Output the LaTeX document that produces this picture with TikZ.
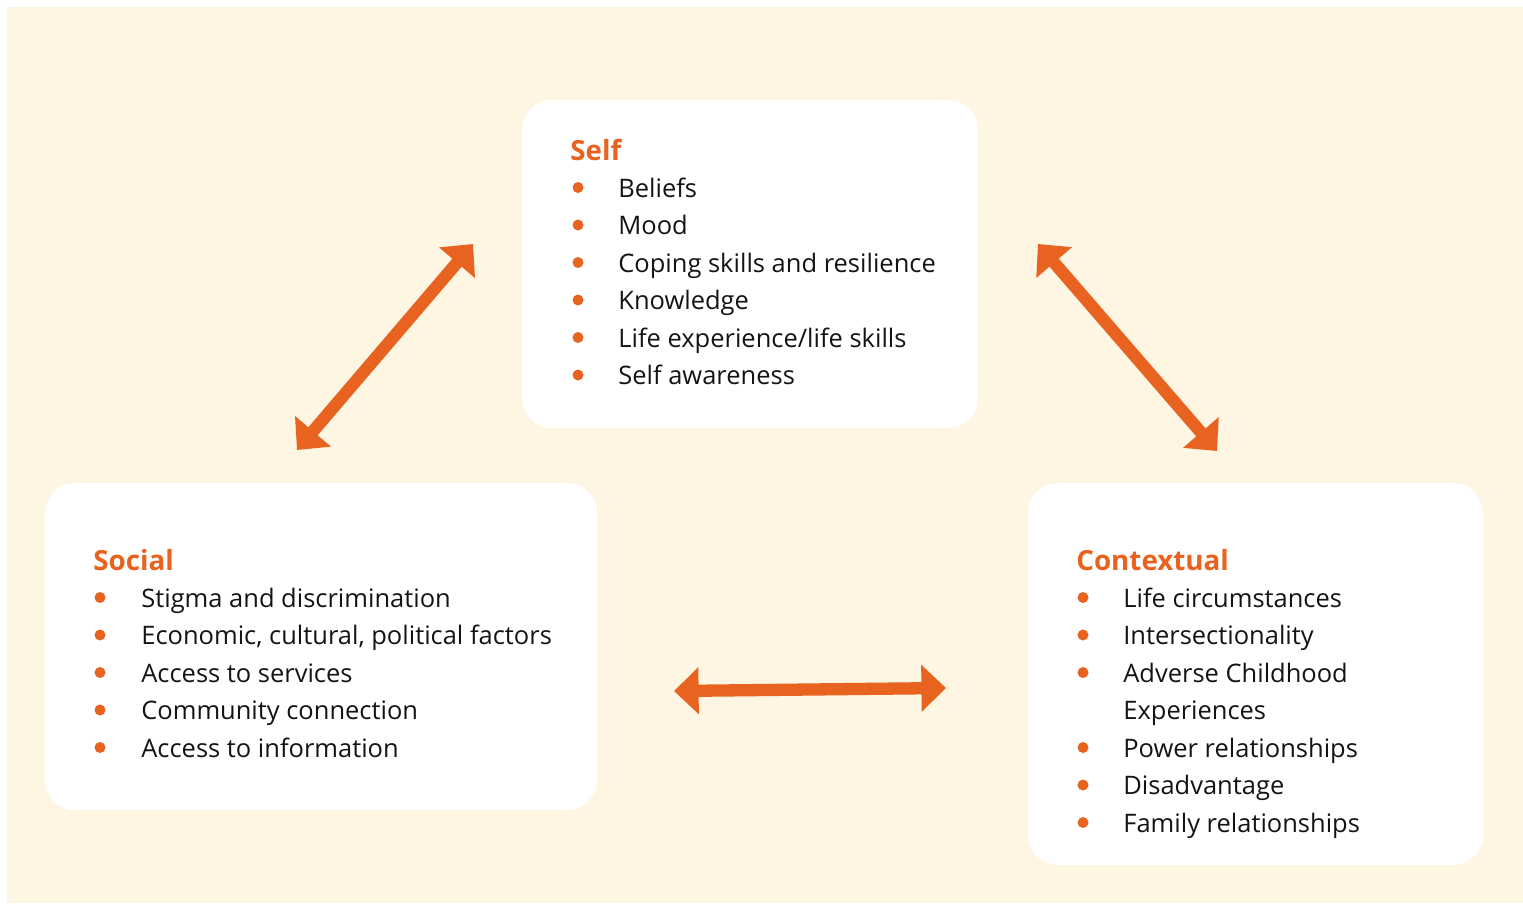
\documentclass[tikz,border=0pt]{standalone}
\usepackage{fontspec}
\setmainfont{Open Sans}
\usepackage{xcolor}
\usetikzlibrary{arrows.meta}
\definecolor{orng}{HTML}{E8631F}
\definecolor{cream}{HTML}{FEF5E3}
\definecolor{ink}{HTML}{141414}

\begin{document}
\begin{tikzpicture}[x=0.02cm, y=-0.02cm,
  panel/.style={fill=white, rounded corners=0.6cm, inner sep=0pt},
  head/.style={anchor=base west, inner sep=0pt, text=orng, font=\fontsize{15.8}{19}\selectfont\bfseries},
  item/.style={anchor=base west, inner sep=0pt, text=ink, font=\fontsize{14.5}{17}\selectfont},
  dot/.style={circle, fill=orng, inner sep=0pt, minimum size=0.22cm},
  link/.style={draw=orng, line width=7pt, >={Triangle[length=14pt, width=26pt]}, <->}]
\useasboundingbox (0,0) rectangle (1523,903);
\fill[white] (0,0) rectangle (1523,903);
\fill[cream] (7,7) rectangle (1523,903);

% the three boxes
\node[panel, minimum width=9.12cm, minimum height=6.56cm] (self) at (750,264) {};
\node[panel, minimum width=11.04cm, minimum height=6.54cm] (social) at (321,646.5) {};
\node[panel, minimum width=9.1cm, minimum height=7.64cm] (context) at (1255.5,674) {};

% Self
\node[head] (selfh) at (570,160) {Self};
\node[dot] (s1d) at (578,187.5) {};
\node[item] (s1) at (618,197) {Beliefs};
\node[dot] (s2d) at (578,225) {};
\node[item] (s2) at (618,234.5) {Mood};
\node[dot] (s3d) at (578,262.5) {};
\node[item] (s3) at (618,272) {Coping skills and resilience};
\node[dot] (s4d) at (578,300) {};
\node[item] (s4) at (618,309.5) {Knowledge};
\node[dot] (s5d) at (578,337.5) {};
\node[item] (s5) at (618,347) {Life experience/life skills};
\node[dot] (s6d) at (578,375) {};
\node[item] (s6) at (618,384.5) {Self awareness};

% Social
\node[head] (socialh) at (93,570) {Social};
\node[dot] (o1d) at (100,597.5) {};
\node[item] (o1) at (141,607) {Stigma and discrimination};
\node[dot] (o2d) at (100,635) {};
\node[item] (o2) at (141,644.5) {Economic, cultural, political factors};
\node[dot] (o3d) at (100,672.5) {};
\node[item] (o3) at (141,682) {Access to services};
\node[dot] (o4d) at (100,710) {};
\node[item] (o4) at (141,719.5) {Community connection};
\node[dot] (o5d) at (100,747.5) {};
\node[item] (o5) at (141,757) {Access to information};

% Contextual
\node[head] (contexth) at (1076,570) {Contextual};
\node[dot] (c1d) at (1083,597.5) {};
\node[item] (c1) at (1123,607) {Life circumstances};
\node[dot] (c2d) at (1083,635) {};
\node[item] (c2) at (1123,644.5) {Intersectionality};
\node[dot] (c3d) at (1083,672.5) {};
\node[item] (c3) at (1123,682) {Adverse Childhood};
\node[item] (c3b) at (1123,719.5) {Experiences};
\node[dot] (c4d) at (1083,747.5) {};
\node[item] (c4) at (1123,757) {Power relationships};
\node[dot] (c5d) at (1083,785) {};
\node[item] (c5) at (1123,794.5) {Disadvantage};
\node[dot] (c6d) at (1083,822.5) {};
\node[item] (c6) at (1123,832) {Family relationships};

% arrow ends
\coordinate (sl) at (297,450);
\coordinate (ls) at (473,244);
\coordinate (sc) at (1038,244);
\coordinate (cs) at (1217,451);
\coordinate (lc) at (674,691);
\coordinate (cl) at (946,688);

\draw[link] (sl) -- (ls);
\draw[link] (sc) -- (cs);
\draw[link] (lc) -- (cl);
\end{tikzpicture}
\end{document}
